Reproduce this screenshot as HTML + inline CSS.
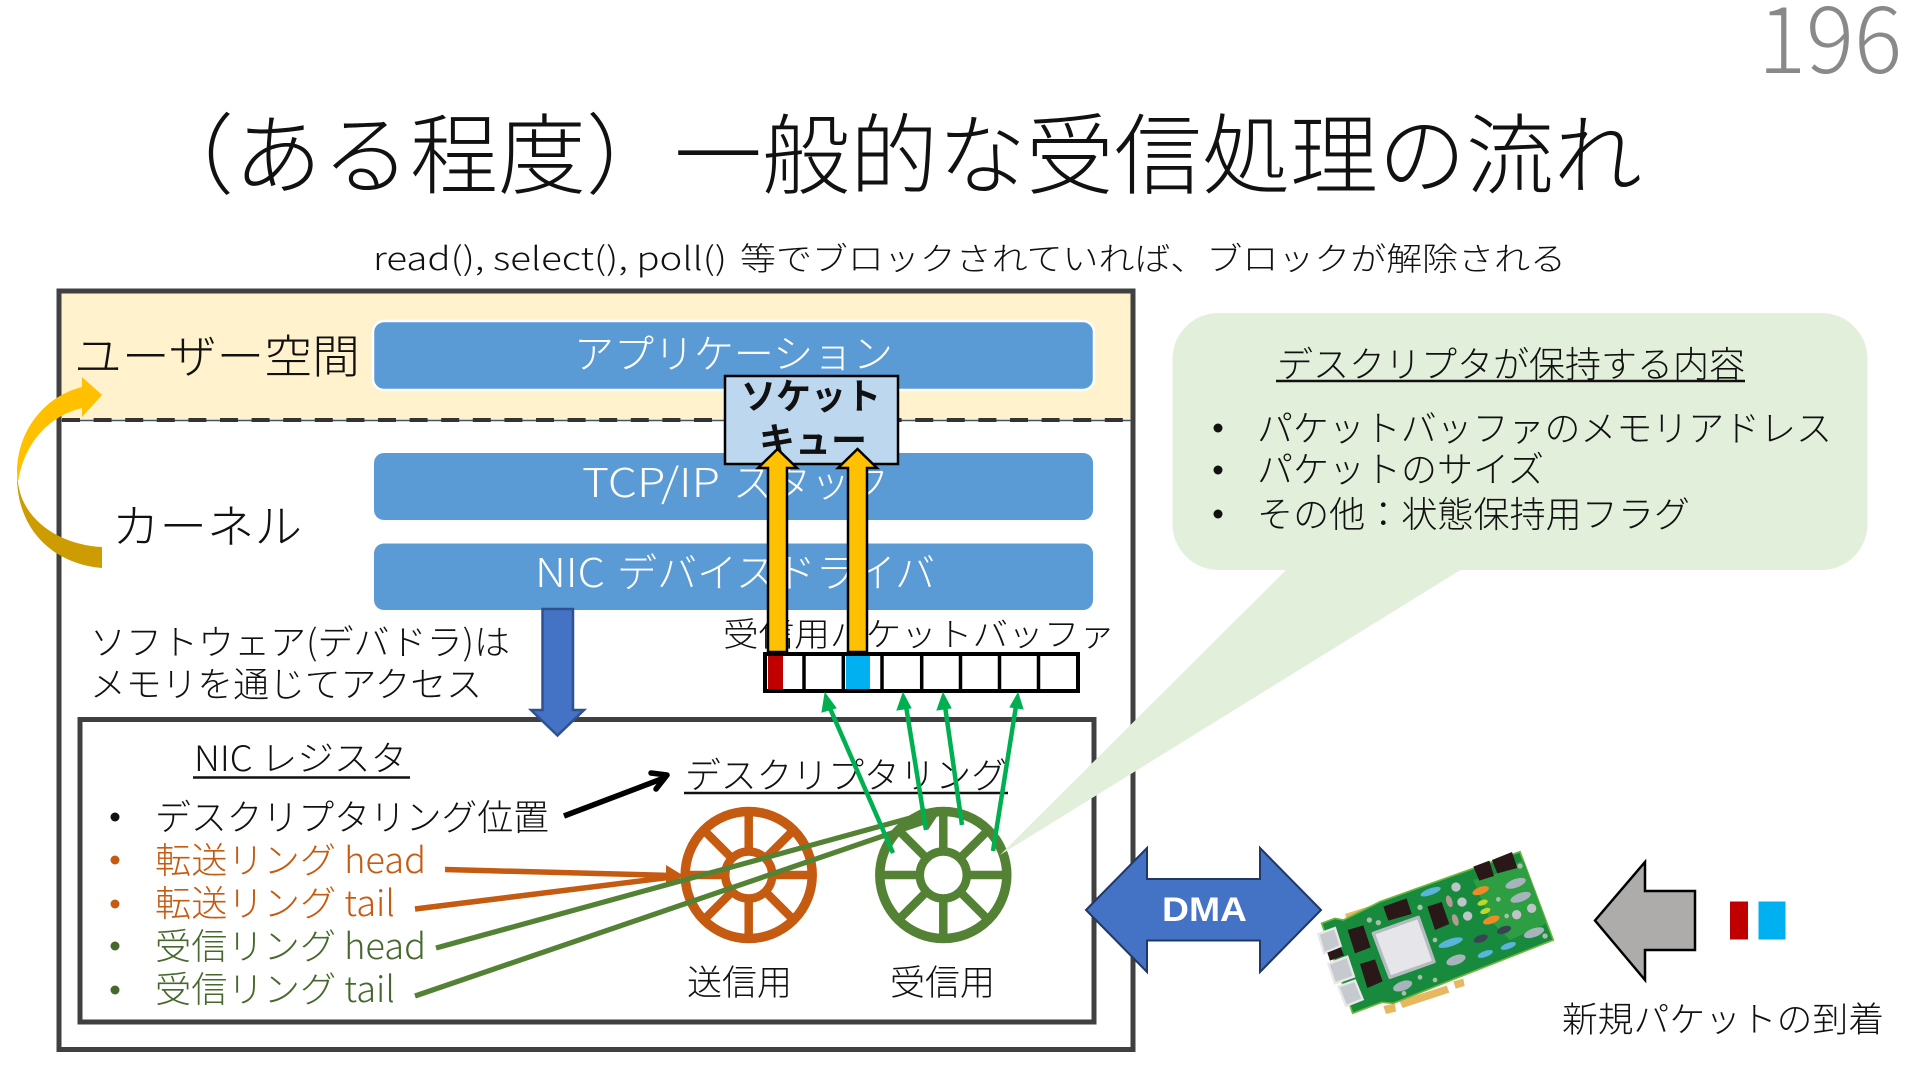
<!DOCTYPE html>
<html lang="ja"><head><meta charset="utf-8"><title>一般的な受信処理の流れ</title>
<style>
html,body{margin:0;padding:0;background:#fff;width:1920px;height:1080px;overflow:hidden}
svg{display:block}
text{font-family:"Noto Sans CJK JP","Liberation Sans",sans-serif;font-weight:300;fill:#111}
.w{fill:#fff}.o{fill:#C55A11}.g{fill:#46682C}
</style></head><body>
<svg width="1920" height="1080" viewBox="0 0 1920 1080" xmlns="http://www.w3.org/2000/svg">
<defs>
<g id="wheel"><circle r="63.5" fill="none" stroke-width="9.5"/><circle r="23.5" fill="none" stroke-width="8.5"/>
<path fill="none" stroke-width="8.5" d="M0-27V-62M0 27V62M-27 0H-62M27 0H62M-19-19L-44-44M19-19L44-44M-19 19L-44 44M19 19L44 44"/></g>
</defs>
<rect width="1920" height="1080" fill="#fff"/>
<text x="1758" y="73" font-size="90" textLength="144" lengthAdjust="spacingAndGlyphs" style="fill:#898989">196</text>
<text x="146" y="187" font-size="88" textLength="1496" lengthAdjust="spacingAndGlyphs">（ある程度）一般的な受信処理の流れ</text>
<text x="373" y="270" font-size="32" textLength="354" lengthAdjust="spacingAndGlyphs">read(), select(), poll()</text>
<text x="740" y="270" font-size="32" textLength="826" lengthAdjust="spacingAndGlyphs">等でブロックされていれば、ブロックが解除される</text>

<rect x="59" y="291" width="1074" height="129" fill="#FFF2CC"/>
<rect x="59" y="291" width="1074" height="758.5" fill="none" stroke="#404040" stroke-width="5"/>
<line x1="61" y1="420.5" x2="1131" y2="420.5" stroke="#44546A" stroke-width="1.5"/>
<line x1="62" y1="420" x2="1131" y2="420" stroke="#333" stroke-width="4" stroke-dasharray="18 13.6"/>

<rect x="373" y="321" width="721" height="69" rx="11" fill="#5B9BD5" stroke="#fff" stroke-width="2.5"/>
<rect x="374" y="453" width="719" height="67" rx="10" fill="#5B9BD5"/>
<rect x="374" y="543.5" width="719" height="66.5" rx="10" fill="#5B9BD5"/>
<text class="w" x="574" y="368" font-size="40" textLength="319" lengthAdjust="spacingAndGlyphs">アプリケーション</text>
<text class="w" x="582" y="497" font-size="40" textLength="138" lengthAdjust="spacingAndGlyphs">TCP/IP</text>
<text class="w" x="733" y="497" font-size="40" textLength="156" lengthAdjust="spacingAndGlyphs">スタック</text>
<text class="w" x="535" y="587" font-size="40" textLength="70" lengthAdjust="spacingAndGlyphs">NIC</text>
<text class="w" x="617" y="587" font-size="40" textLength="318" lengthAdjust="spacingAndGlyphs">デバイスドライバ</text>

<text x="74" y="373" font-size="46" textLength="286" lengthAdjust="spacingAndGlyphs">ユーザー空間</text>
<text x="112" y="543" font-size="46" textLength="190" lengthAdjust="spacingAndGlyphs">カーネル</text>
<path d="M18 482C22 520 60 545 102 547V568C55 564 18 532 17 478Z" fill="#CC9C00"/>
<path d="M17.3 480C14 435 42 397 82 387V377L102 395L82 417V408C52 415 25 440 18.5 480Z" fill="#FFC000"/>

<text x="90" y="655" font-size="35" textLength="420" lengthAdjust="spacingAndGlyphs">ソフトウェア(デバドラ)は</text>
<text x="90" y="697" font-size="35" textLength="392" lengthAdjust="spacingAndGlyphs">メモリを通じてアクセス</text>
<text x="723" y="646" font-size="33" textLength="392" lengthAdjust="spacingAndGlyphs">受信用パケットバッファ</text>

<rect x="80" y="719.5" width="1014" height="302.5" fill="#fff" stroke="#404040" stroke-width="5"/>
<path d="M542.5 609H573V710H584L557.5 735.5L531 710H542.5Z" fill="#4472C4" stroke="#2F528F" stroke-width="2.5"/>

<text x="194" y="771" font-size="35" textLength="213" lengthAdjust="spacingAndGlyphs">NIC レジスタ</text>
<line x1="193" y1="777.5" x2="410" y2="777.5" stroke="#111" stroke-width="2.5"/>
<text x="685" y="788" font-size="36" textLength="322" lengthAdjust="spacingAndGlyphs">デスクリプタリング</text>
<line x1="684" y1="793" x2="1008" y2="793" stroke="#111" stroke-width="2.5"/>

<circle cx="115" cy="817" r="4.5" fill="#111"/><circle cx="115" cy="860" r="4.5" fill="#C55A11"/><circle cx="115" cy="904" r="4.5" fill="#C55A11"/><circle cx="115" cy="946" r="4.5" fill="#46682C"/><circle cx="115" cy="990" r="4.5" fill="#46682C"/>
<text x="155" y="830" font-size="36" textLength="394" lengthAdjust="spacingAndGlyphs">デスクリプタリング位置</text>
<text class="o" x="155" y="873" font-size="36" textLength="271" lengthAdjust="spacingAndGlyphs">転送リング head</text>
<text class="o" x="155" y="916" font-size="36" textLength="240" lengthAdjust="spacingAndGlyphs">転送リング tail</text>
<text class="g" x="155" y="959" font-size="36" textLength="271" lengthAdjust="spacingAndGlyphs">受信リング head</text>
<text class="g" x="155" y="1002" font-size="36" textLength="240" lengthAdjust="spacingAndGlyphs">受信リング tail</text>
<text x="687" y="995" font-size="35" textLength="105" lengthAdjust="spacingAndGlyphs">送信用</text>
<text x="890" y="995" font-size="35" textLength="105" lengthAdjust="spacingAndGlyphs">受信用</text>

<path d="M564 816L664 778" fill="none" stroke="#000" stroke-width="5.5"/>
<path d="M651 773L667 775L656 789" fill="none" stroke="#000" stroke-width="5.5" stroke-linejoin="round" stroke-linecap="round"/>

<use href="#wheel" x="748.7" y="875" stroke="#C55A11"/>
<use href="#wheel" x="943.3" y="875" stroke="#548235"/>
<g stroke="#C55A11" stroke-width="5.5" fill="#C55A11"><line x1="445" y1="869.5" x2="672" y2="875.5"/><line x1="415" y1="909" x2="672" y2="877"/></g>
<path d="M666 865L684 876L666 886Z" fill="#C55A11"/>
<g stroke="#548235" stroke-width="5.2"><line x1="436" y1="948" x2="925" y2="814"/><line x1="415" y1="996" x2="930" y2="820"/></g>
<path d="M897 825L910 815L923 808L940 812L928 830L925 820Z" fill="#548235"/>

<rect x="765" y="654" width="313" height="37" fill="#fff"/>
<rect x="768" y="656" width="15" height="33" fill="#C00000"/>
<rect x="846" y="656" width="24" height="33" fill="#00B0F0"/>
<rect x="765" y="654" width="313" height="37" fill="none" stroke="#000" stroke-width="4"/>
<path d="M804 654v37M843.3 654v37M882 654v37M921.7 654v37M960.5 654v37M999.5 654v37M1038.5 654v37" stroke="#000" stroke-width="3.5"/>

<path d="M1287 569H1462L1000 855Z" fill="#E2EFDA"/>
<rect x="1172.5" y="313" width="695" height="257" rx="46" fill="#E2EFDA"/>
<text x="1277" y="377" font-size="36" textLength="468" lengthAdjust="spacingAndGlyphs">デスクリプタが保持する内容</text>
<line x1="1276" y1="381" x2="1745" y2="381" stroke="#111" stroke-width="2.5"/>
<circle cx="1218" cy="428" r="4.5" fill="#111"/><circle cx="1218" cy="470" r="4.5" fill="#111"/><circle cx="1218" cy="514" r="4.5" fill="#111"/>
<text x="1257" y="441" font-size="36" textLength="575" lengthAdjust="spacingAndGlyphs">パケットバッファのメモリアドレス</text>
<text x="1257" y="482" font-size="36" textLength="287" lengthAdjust="spacingAndGlyphs">パケットのサイズ</text>
<text x="1257" y="527" font-size="36" textLength="433" lengthAdjust="spacingAndGlyphs">その他：状態保持用フラグ</text>

<g stroke="#00B050" stroke-width="4.5"><line x1="893" y1="853" x2="829" y2="706"/><line x1="926" y1="830" x2="906" y2="706"/><line x1="962" y1="825" x2="945" y2="706"/><line x1="993" y1="851" x2="1016" y2="706"/></g>
<path d="M825 693L836 708L822 712ZM903 693L911 708L897 710ZM943 693L951 708L937 710ZM1018 693L1023 709L1010 707Z" fill="#00B050" stroke="#00B050" stroke-width="1"/>

<rect x="725" y="376" width="173" height="88" fill="#BDD7EE" stroke="#000" stroke-width="2.5"/>
<text x="741" y="409" font-size="36" textLength="140" lengthAdjust="spacingAndGlyphs" style="font-weight:700">ソケット</text>
<text x="759" y="453" font-size="36" textLength="108" lengthAdjust="spacingAndGlyphs" style="font-weight:700">キュー</text>
<g fill="#FFC000" stroke="#000" stroke-width="2.5"><path d="M768 652V468H758L777.5 449L797 468H787V652Z"/><path d="M848 652V468H838L857.5 449L877 468H867V652Z"/></g>

<path d="M1086 910L1147 848V879H1260V848L1321 910L1260 972V940.5H1147V972Z" fill="#4472C4" stroke="#203864" stroke-width="2"/>
<text class="w" x="1162" y="921" font-size="34" textLength="85" lengthAdjust="spacingAndGlyphs" style="font-weight:700;font-family:'Liberation Sans'">DMA</text>

<path d="M1595 920.5L1645 862V891H1695V950H1645V980Z" fill="#AEABAB" stroke="#000" stroke-width="2.5"/>
<rect x="1730" y="901.5" width="18" height="38" fill="#C00000"/>
<rect x="1758.5" y="901.5" width="27" height="38" fill="#00B0F0"/>
<text x="1562" y="1032" font-size="35" textLength="322" lengthAdjust="spacingAndGlyphs">新規パケットの到着</text>

<g transform="translate(1310 840) scale(.3333)">
<path d="M105 222L185 196L190 208L110 236ZM268 482L410 437L418 458L278 504ZM220 498L255 490L258 515L228 522ZM430 424L460 416L464 438L437 446Z" fill="#E8B860"/>
<path d="M35 250L75 235L100 240L200 190L210 185L630 35L730 300L430 418L250 490L215 487L128 520Z" fill="#188A3E" stroke="#6BB83A" stroke-width="5"/>
<path d="M490 120L560 100L640 60L710 250L600 300L540 240Z" fill="#2E9E42"/>
<path d="M25 282L75 264L92 318L42 340ZM55 372L112 350L132 410L75 430ZM85 440L135 422L158 478L108 498Z" fill="#C6CACE" stroke="#E8E8EA" stroke-width="7"/>
<path d="M52 338L92 322L102 346L60 362Z" fill="#2A1818"/>
<path d="M190 280L325 232L372 365L240 412Z" fill="#E6E6EA" stroke="#B5BCC0" stroke-width="10" stroke-linejoin="round"/>
<g fill="#2A1818"><path d="M220 200L290 175L305 222L235 242ZM352 200L395 186L418 252L375 270ZM113 270L160 256L182 322L135 340ZM150 372L195 358L218 424L172 444ZM490 80L538 62L552 108L508 122ZM546 60L606 36L622 84L562 100Z"/></g>
<g fill="#5AB4DC"><ellipse cx="362" cy="155" rx="32" ry="10" transform="rotate(-20 362 155)"/><ellipse cx="422" cy="308" rx="38" ry="11" transform="rotate(-18 422 308)"/><ellipse cx="526" cy="342" rx="24" ry="9" transform="rotate(-20 526 342)"/><ellipse cx="595" cy="318" rx="24" ry="9" transform="rotate(-20 595 318)"/></g>
<g fill="#A7B4BC"><ellipse cx="438" cy="360" rx="30" ry="14" transform="rotate(-20 438 360)"/><ellipse cx="278" cy="438" rx="30" ry="14" transform="rotate(-20 278 438)"/><ellipse cx="617" cy="130" rx="32" ry="13" transform="rotate(-20 617 130)"/><ellipse cx="632" cy="172" rx="32" ry="13" transform="rotate(-20 632 172)"/><ellipse cx="672" cy="278" rx="32" ry="13" transform="rotate(-20 672 278)"/></g>
<g fill="#ED8B26"><ellipse cx="512" cy="152" rx="26" ry="11" transform="rotate(-20 512 152)"/><ellipse cx="544" cy="240" rx="26" ry="11" transform="rotate(-20 544 240)"/></g>
<g fill="#B9D92E"><ellipse cx="518" cy="188" rx="16" ry="8" transform="rotate(-20 518 188)"/><ellipse cx="526" cy="213" rx="16" ry="8" transform="rotate(-20 526 213)"/></g>
<g fill="#3A4450"><ellipse cx="512" cy="296" rx="22" ry="11" transform="rotate(-20 512 296)"/><ellipse cx="582" cy="270" rx="22" ry="11" transform="rotate(-20 582 270)"/></g>
<g fill="#B89A94"><ellipse cx="418" cy="184" rx="9" ry="18" transform="rotate(-18 418 184)"/><ellipse cx="436" cy="240" rx="9" ry="18" transform="rotate(-18 436 240)"/></g>
<g fill="#BFC5C6"><circle cx="438" cy="141" r="14"/><circle cx="456" cy="186" r="14"/><circle cx="473" cy="228" r="14"/><circle cx="620" cy="224" r="14"/><circle cx="665" cy="205" r="14"/></g>
<g fill="#A8C0A8"><circle cx="178" cy="240" r="8"/><circle cx="205" cy="248" r="8"/><circle cx="330" cy="202" r="8"/><circle cx="375" cy="300" r="7"/><circle cx="330" cy="412" r="7"/><circle cx="375" cy="420" r="7"/><circle cx="282" cy="460" r="7"/><circle cx="630" cy="78" r="8"/><circle cx="705" cy="288" r="8"/><circle cx="565" cy="178" r="7"/><circle cx="590" cy="228" r="7"/></g>
</g>
</svg>
</body></html>
